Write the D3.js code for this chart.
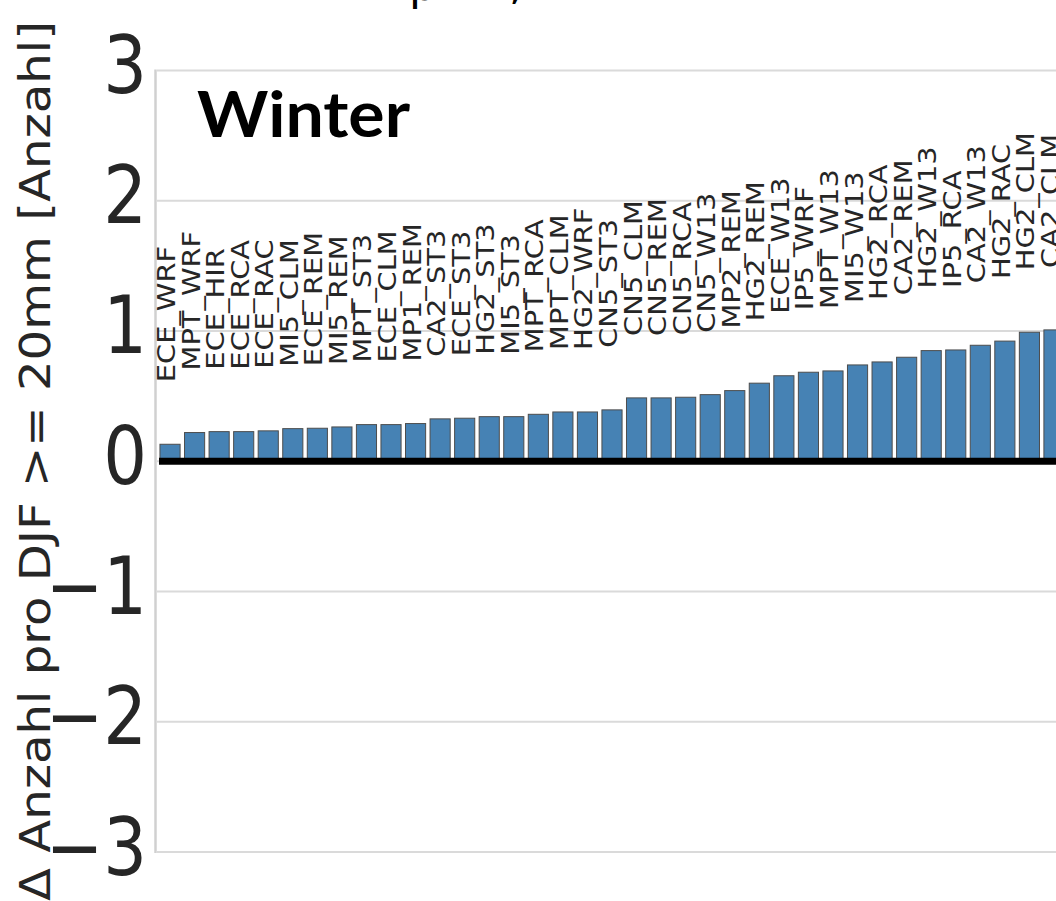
<!DOCTYPE html>
<html>
<head>
<meta charset="utf-8">
<script src="https://cdn.jsdelivr.net/npm/d3@7"></script>
<style>
  html, body { margin: 0; padding: 0; background: #ffffff; overflow: hidden; }
  svg { display: block; }
</style>
</head>
<body>
<svg id="chart" width="1056" height="901"></svg>
<script>
// Regional climate model combinations, sorted by change
const models = [
  "ECE_WRF", "MPT_WRF", "ECE_HIR", "ECE_RCA", "ECE_RAC", "MI5_CLM", "ECE_REM",
  "MI5_REM", "MPT_ST3", "ECE_CLM", "MP1_REM", "CA2_ST3", "ECE_ST3", "HG2_ST3",
  "MI5_ST3", "MPT_RCA", "MPT_CLM", "HG2_WRF", "CN5_ST3", "CN5_CLM", "CN5_REM",
  "CN5_RCA", "CN5_W13", "MP2_REM", "HG2_REM", "ECE_W13", "IP5_WRF", "MPT_W13",
  "MI5_W13", "HG2_RCA", "CA2_REM", "HG2_W13", "IP5_RCA", "CA2_W13", "HG2_RAC",
  "HG2_CLM", "CA2_CLM"
];

// Change in number of days per DJF with >= 20 mm
const values = [
  0.13, 0.22, 0.227, 0.227, 0.233, 0.25, 0.253,
  0.263, 0.281, 0.281, 0.289, 0.325, 0.33, 0.342,
  0.342, 0.36, 0.378, 0.378, 0.394, 0.486, 0.486,
  0.491, 0.511, 0.542, 0.599, 0.656, 0.683, 0.693,
  0.739, 0.762, 0.798, 0.849, 0.854, 0.89, 0.922,
  0.99, 1.008
];

const yTicks = [-3, -2, -1, 0, 1, 2, 3];
const yLabel = "\u0394 Anzahl pro DJF >= 20mm [Anzahl]";
const panelTitle = "Winter";

const svg = d3.select("#chart");
const W = 1056;
const textColor = "#262626";

const x = d3.scaleBand()
  .domain(models)
  .range([158, 1066])
  .paddingInner(0.18)
  .paddingOuter(0.08);

const y = d3.scaleLinear()
  .domain([-3, 3])
  .range([852, 70.4]);

// horizontal grid
svg.append("g")
  .selectAll("line")
  .data(yTicks)
  .join("line")
  .attr("x1", 157)
  .attr("x2", W)
  .attr("y1", d => y(d))
  .attr("y2", d => y(d))
  .attr("stroke", "#dadada")
  .attr("stroke-width", 2);

// left spine
svg.append("line")
  .attr("x1", 155.5).attr("x2", 155.5)
  .attr("y1", y(3) - 1).attr("y2", y(-3) + 1)
  .attr("stroke", "#d0d0d0")
  .attr("stroke-width", 2.5);

// bars
svg.append("g")
  .selectAll("rect")
  .data(models)
  .join("rect")
  .attr("x", d => x(d))
  .attr("width", x.bandwidth())
  .attr("y", (d, i) => y(Math.max(0, values[i])))
  .attr("height", (d, i) => Math.abs(y(values[i]) - y(0)))
  .attr("fill", "#4682b4")
  .attr("stroke", "#4d4d4d")
  .attr("stroke-width", 1);

// zero line
svg.append("line")
  .attr("x1", 159).attr("x2", W)
  .attr("y1", y(0)).attr("y2", y(0))
  .attr("stroke", "#000000")
  .attr("stroke-width", 7);

// model labels above bars (vertical text, stretched along its run)
svg.append("g")
  .selectAll("text")
  .data(models)
  .join("text")
  .attr("transform", (d, i) =>
    `translate(${x(d) + x.bandwidth() / 2 + 5},${y(values[i]) - 62}) rotate(-90) scale(1.18,1)`)
  .attr("text-anchor", "start")
  .attr("font-family", "DejaVu Sans, sans-serif")
  .attr("font-size", 24.5)
  .attr("fill", textColor)
  .text(d => d);

// y axis tick labels
const yAxis = svg.append("g")
  .attr("transform", "translate(147,0)")
  .call(d3.axisLeft(y).tickValues(yTicks).tickFormat(d3.format("d")).tickSize(0).tickPadding(0));
yAxis.select(".domain").remove();
yAxis.selectAll("text")
  .attr("x", 0)
  .attr("dy", null)
  .attr("y", 22)
  .attr("transform", "scale(0.86,1)")
  .attr("font-family", "DejaVu Sans, sans-serif")
  .attr("font-size", 80)
  .attr("fill", textColor);

// y axis title
svg.append("text")
  .attr("transform", "translate(50,461) rotate(-90)")
  .attr("text-anchor", "middle")
  .attr("font-family", "DejaVu Sans, sans-serif")
  .attr("font-size", 42)
  .attr("fill", textColor)
  .attr("textLength", 880)
  .attr("lengthAdjust", "spacingAndGlyphs")
  .text(yLabel);

// panel title
svg.append("text")
  .attr("x", 197)
  .attr("y", 137)
  .attr("font-family", "Lato, 'Open Sans', sans-serif")
  .attr("font-weight", 700)
  .attr("font-size", 64)
  .attr("fill", "#000000")
  .attr("textLength", 213)
  .attr("lengthAdjust", "spacingAndGlyphs")
  .text(panelTitle);

// descenders of the figure heading running above the panel
svg.append("text")
  .attr("x", 409).attr("y", 0)
  .attr("font-family", "DejaVu Sans, sans-serif")
  .attr("font-size", 44)
  .attr("fill", "#000000")
  .text("p");
svg.append("text")
  .attr("x", 509).attr("y", -1)
  .attr("font-family", "DejaVu Sans, sans-serif")
  .attr("font-size", 44)
  .attr("fill", "#000000")
  .text(",");
</script>
</body>
</html>
